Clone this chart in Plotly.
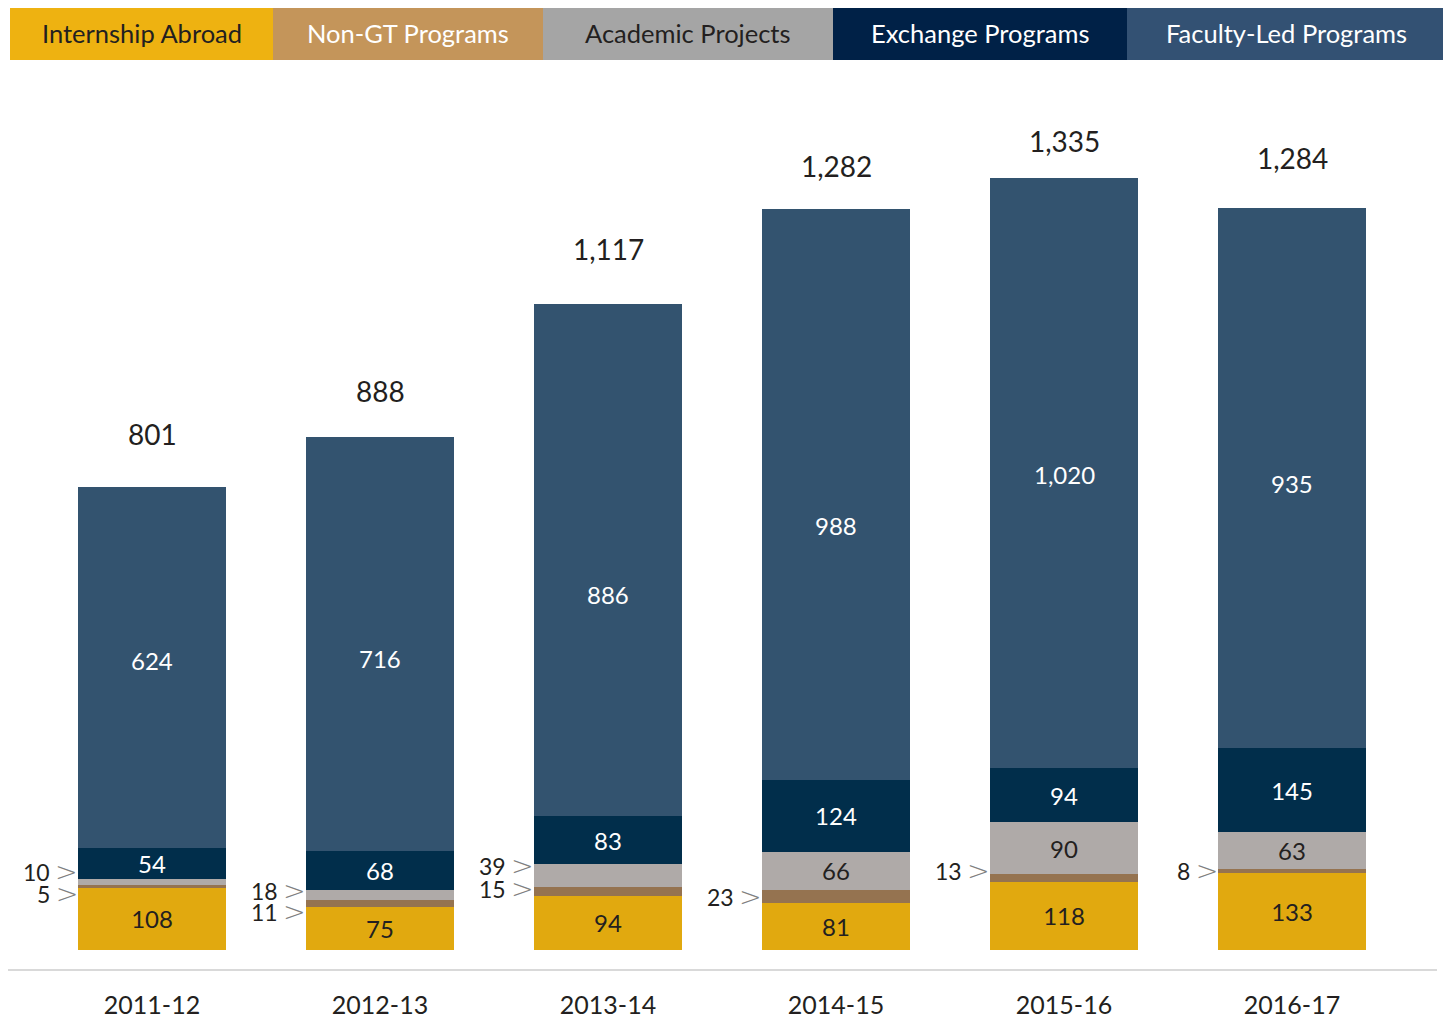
import plotly.graph_objects as go

years = ['2011-12', '2012-13', '2013-14', '2014-15', '2015-16', '2016-17']
internship = [108, 75, 94, 81, 118, 133]
non_gt = [5, 11, 15, 23, 13, 8]
academic = [10, 18, 39, 66, 90, 63]
exchange = [54, 68, 83, 124, 94, 145]
faculty = [624, 716, 886, 988, 1020, 935]

series_names = ['Internship Abroad', 'Non-GT Programs', 'Academic Projects',
                'Exchange Programs', 'Faculty-Led Programs']
bar_colors = ['#E1A90F', '#957350', '#AFAAA8', '#012E4B', '#33536F']
legend_colors = ['#EEB211', '#C4955A', '#A5A5A5', '#002147', '#335173']
legend_text_colors = ['#231F20', 'white', '#231F20', 'white', 'white']
text_colors = ['#231F20', 'white', '#231F20', 'white', 'white']

# label placement tweaks (pixels / fraction of segment)
small_shift_acad = [10, 5, 10, None, None, None]
small_shift_nongt = [-7, -8, 3, 0, 8, 0]
total_shift = [34, 27, 36, 24, 18, 31]
faculty_label_pos = [0.52, 0.465, 0.433, 0.445, 0.498, 0.49]

FONT = 'Lato'
OFF = 8  # page body margin
W, H = 1451 - 2 * OFF, 1026 - 2 * OFF
ML, MR, MT, MB = 38 - OFF, 45 - OFF, 80 - OFF, 56 - OFF
PW, PH = W - ML - MR, H - MT - MB


def px(x):
    return (x - OFF - ML) / PW


def py(y):
    return (H - MB - (y - OFF)) / PH


fig = go.Figure()
all_series = [internship, non_gt, academic, exchange, faculty]
for i, (name, vals) in enumerate(zip(series_names, all_series)):
    if i in (1, 4):
        txt = ['' for v in vals]
    elif i == 2:
        txt = ['' if s is not None else str(v) for v, s in zip(vals, small_shift_acad)]
    else:
        txt = [f'{v:,}' for v in vals]
    fig.add_trace(go.Bar(
        x=years, y=vals, name=name,
        marker=dict(color=bar_colors[i], line=dict(width=0)),
        text=txt, textposition='inside', insidetextanchor='middle',
        textangle=0, constraintext='none',
        textfont=dict(family=FONT, size=24, color=text_colors[i]),
        showlegend=False,
    ))

# faculty-led labels sit a bit below the middle of the segment
for j, yr in enumerate(years):
    base = internship[j] + non_gt[j] + academic[j] + exchange[j]
    fig.add_annotation(x=yr, y=base + faculty[j] * faculty_label_pos[j],
                       text=f'{faculty[j]:,}', showarrow=False,
                       xanchor='center', yanchor='middle',
                       font=dict(family=FONT, size=24, color='white'))

totals = [sum(v) for v in zip(*all_series)]
for yr, t, s in zip(years, totals, total_shift):
    fig.add_annotation(x=yr, y=t, text=f'{t:,}', showarrow=False,
                       xanchor='center', yanchor='bottom', yshift=s,
                       font=dict(family=FONT, size=28, color='#231F20'))

chev = ("<span style='color:#808080;font-family:DejaVu Sans;font-weight:200;"
        "font-size:27px'>&#8201;&gt;</span>")
for j, yr in enumerate(years):
    base = internship[j]
    fig.add_annotation(x=yr, y=base + non_gt[j] / 2, text=f'{non_gt[j]}{chev}',
                       showarrow=False, xanchor='right', yanchor='middle', xshift=-72,
                       yshift=small_shift_nongt[j],
                       font=dict(family=FONT, size=23, color='#231F20'))
    if small_shift_acad[j] is not None:
        fig.add_annotation(x=yr, y=base + non_gt[j] + academic[j] / 2,
                           text=f'{academic[j]}{chev}',
                           showarrow=False, xanchor='right', yanchor='middle', xshift=-72,
                           yshift=small_shift_acad[j],
                           font=dict(family=FONT, size=23, color='#231F20'))

# legend as coloured boxes across the top
edges = [10, 273, 543, 833, 1127, 1446]
for i, name in enumerate(series_names):
    fig.add_shape(type='rect', xref='paper', yref='paper',
                  x0=px(edges[i]), x1=px(edges[i + 1]), y0=py(60), y1=py(8),
                  fillcolor=legend_colors[i], line=dict(width=0))
    fig.add_annotation(xref='paper', yref='paper',
                       x=px((edges[i] + edges[i + 1]) / 2), y=py(33),
                       xanchor='center', yanchor='middle',
                       text=name, showarrow=False,
                       font=dict(family=FONT, size=25.5, color=legend_text_colors[i]))

# baseline
fig.add_shape(type='line', xref='paper', yref='paper',
              x0=px(0), x1=px(1437), y0=0, y1=0,
              line=dict(color='#D9D9D9', width=2))

fig.update_layout(
    width=W, height=H,
    barmode='stack', bargap=0.35,
    plot_bgcolor='white', paper_bgcolor='white',
    margin=dict(l=ML, r=MR, t=MT, b=MB, autoexpand=False),
    font=dict(family=FONT, color='#231F20'),
    xaxis=dict(type='category', range=[-0.5, 5.5], showgrid=False, showline=False,
               zeroline=False, ticks='', ticklabelstandoff=18, automargin=False,
               tickfont=dict(family=FONT, size=25, color='#231F20')),
    yaxis=dict(range=[-34.6, 1505.2], visible=False, automargin=False),
)

fig.write_html('out.html')
